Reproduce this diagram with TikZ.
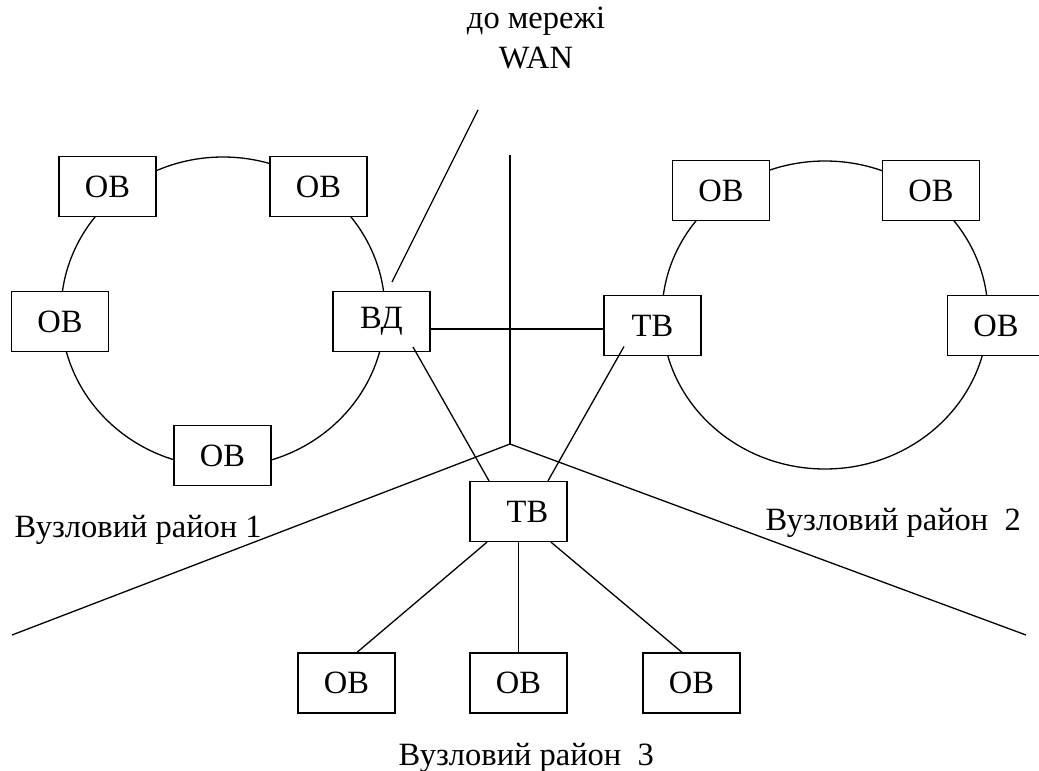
\documentclass[tikz,border=0pt]{standalone}
\usepackage{fontspec}
\setmainfont{Liberation Serif}
\usetikzlibrary{calc}

\begin{document}
\begin{tikzpicture}[x = 1pt, y = -1pt, line width = 1.3pt,
    box/.style = {draw, fill = white, minimum width = 97, minimum height = 60, inner sep = 0pt},
    every node/.style = {font = \fontsize{32.5}{38}\selectfont}]
    \useasboundingbox (0,0) rectangle (1039,771);

        \draw (223,312) ellipse [x radius = 162, y radius = 155];
        \draw (825,315) ellipse [x radius = 163, y radius = 154];

        \node[box] (ob1) at (107.5,186.5) {ОВ};
        \node[box] (ob2) at (318.5,186.5) {ОВ};
        \node[box] (ob3) at (60,321.5) {ОВ};
        \node[box] (vd) at (381.5,321.5) {ВД};
        \node[box] (ob4) at (222.5,455.5) {ОВ};

        \node[box] (ob5) at (721,190.5) {ОВ};
        \node[box] (ob6) at (931,190.5) {ОВ};
        \node[box] (ob7) at (996,325.5) {ОВ};
        \node[box] (tv1) at (652.5,325.5) {ТВ};

        \node[box] (tv2) at (518.5,511.5) {\hspace*{18pt}ТВ};
        \node[box] (ob8) at (346.5,683) {ОВ};
        \node[box] (ob9) at (518.5,683) {ОВ};
        \node[box] (ob10) at (691.5,683) {ОВ};

        \node[anchor = base] (wan1) at (536,28) {до мережі};
        \node[anchor = base] (wan2) at (536,68) {WAN};
        \node[anchor = base west, inner sep = 0pt] (area1) at (14,537) {Вузловий район 1};
        \node[anchor = base west, inner sep = 0pt] (area2) at (765,530) {Вузловий район\ \ 2};
        \node[anchor = base west, inner sep = 0pt] (area3) at (398,765) {Вузловий район\ \ 3};

        \coordinate (wantop) at (478,110);
        \coordinate (wanend) at (392,282);
        \coordinate (mast) at (510,155);
        \coordinate (hub) at (510,444);
        \coordinate (edgeL) at (12,635);
        \coordinate (edgeR) at (1026,635);

    \draw (wantop) -- (wanend);
    \draw (mast) -- (hub);
    \draw (edgeL) -- (hub) -- (edgeR);
    \draw (vd.east |- 0,329) -- (tv1.west |- 0,329);
    \draw ($(vd.center)+(31.5,25.5)$) -- (tv2.north -| 489,0);
    \draw ($(tv1.center)+(-28.5,21)$) -- (tv2.north -| 548,0);
    \draw (tv2.south -| 487,0) -- (ob8.north -| 357,0);
    \draw (tv2.south) -- (ob9.north);
    \draw (tv2.south -| 551,0) -- (ob10.north -| 682,0);
\end{tikzpicture}
\end{document}
